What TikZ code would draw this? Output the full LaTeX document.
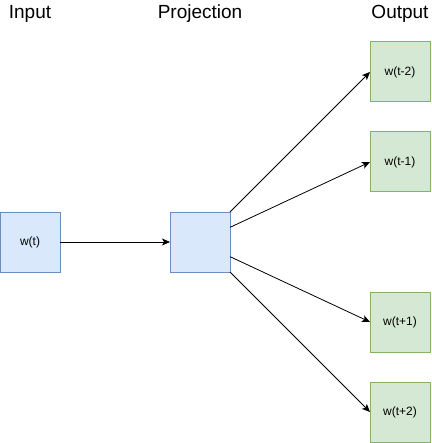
\documentclass[tikz,border=0pt]{standalone}
\usepackage{fontspec}
\setmainfont{Liberation Sans}
\usetikzlibrary{arrows.meta}
\definecolor{inFill}{HTML}{DAE8FC}
\definecolor{inLine}{HTML}{6C8EBF}
\definecolor{outFill}{HTML}{D5E8D4}
\definecolor{outLine}{HTML}{82B366}
\begin{document}
\begin{tikzpicture}[x=1pt,y=-1pt,
  unitbox/.style={draw, line width=1pt, minimum width=60pt, minimum height=60pt,
    inner sep=0pt, outer sep=0pt, font=\fontsize{12}{14}\selectfont},
  inbox/.style={unitbox, fill=inFill, draw=inLine},
  outbox/.style={unitbox, fill=outFill, draw=outLine},
  heading/.style={font=\fontsize{19}{22}\selectfont, inner sep=0pt, anchor=base},
  link/.style={draw=black, line width=0.8pt, -{Stealth[length=8pt,width=7pt,inset=2pt]}}]
  \useasboundingbox (0,0) rectangle (431,443);

  % column headings
  \node[heading] (hIn)   at (30,19)  {Input};
  \node[heading] (hProj) at (200,19) {Projection};
  \node[heading] (hOut)  at (400,19) {Output};

  % input and hidden layer
  \node[inbox] (win)  at (30,242)  {w(t)};
  \node[inbox] (proj) at (200,242) {};

  % context words
  \node[outbox] (o1) at (400,72)  {w(t-2)};
  \node[outbox] (o2) at (400,162) {w(t-1)};
  \node[outbox] (o3) at (400,322) {w(t+1)};
  \node[outbox] (o4) at (400,412) {w(t+2)};

  % connections
  \draw[link] (win.east) -- (proj.west);
  \draw[link] (proj.north east) -- (o1.west);
  \draw[link] (proj.26.565) -- (o2.west);
  \draw[link] (proj.-26.565) -- (o3.west);
  \draw[link] (proj.south east) -- (o4.west);
\end{tikzpicture}
\end{document}
